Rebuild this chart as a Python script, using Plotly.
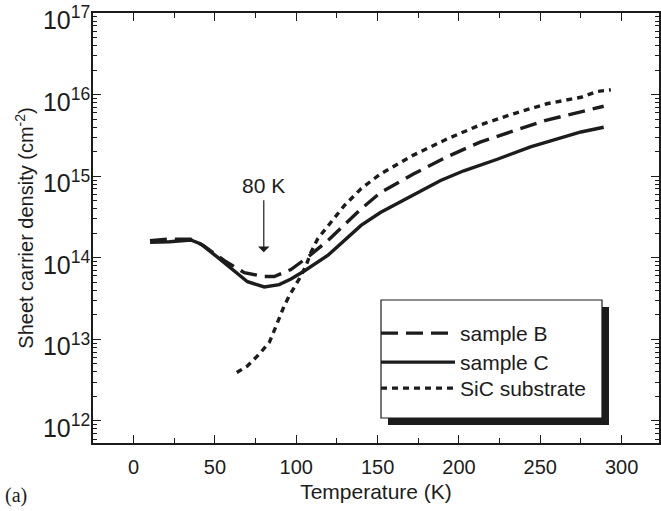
import plotly.graph_objects as go
import numpy as np

# ---- data ----
T_B = [10, 22, 35, 43, 55.6, 68, 80, 86.4, 96.7, 107, 119.3, 139.8, 151.7, 172, 192.8, 213, 234, 254, 275, 289]
n_B = [1.62e14, 1.70e14, 1.70e14, 1.41e14, 9.3e13, 6.6e13, 5.9e13, 5.9e13, 7.2e13, 1.02e14, 1.62e14,
       3.98e14, 6.3e14, 1.07e15, 1.74e15, 2.63e15, 3.63e15, 4.90e15, 6.17e15, 7.24e15]

T_C = [10.1, 22, 35.1, 41.3, 51.5, 61.8, 70, 80.3, 89.5, 96.7, 104.9, 119.3, 139.8, 151.7, 172, 188.7,
       203, 223.6, 244, 264.7, 275, 289]
n_C = [1.55e14, 1.58e14, 1.66e14, 1.48e14, 1.02e14, 6.9e13, 5.1e13, 4.4e13, 4.7e13, 5.5e13, 6.9e13,
       1.07e14, 2.5e14, 3.6e14, 6.0e14, 8.9e14, 1.17e15, 1.62e15, 2.3e15, 3.0e15, 3.5e15, 4.0e15]

T_S = [63.4, 70.0, 77.2, 83.4, 86.4, 89.5, 92.6, 95.7, 98.8, 101.8, 106, 109, 113.1, 117.2, 123.4, 129.6,
       135.7, 139.8, 151.7, 172, 192.8, 213, 234, 254, 275, 285, 293.4]
n_S = [3.93e12, 4.74e12, 6.6e12, 9.2e12, 1.28e13, 1.86e13, 2.59e13, 3.44e13, 4.37e13, 5.52e13, 8.05e13,
       1.17e14, 1.71e14, 2.17e14, 3.16e14, 4.40e14, 5.83e14, 7.05e14, 1.07e15, 1.82e15, 2.88e15, 4.27e15,
       5.89e15, 7.76e15, 9.33e15, 1.10e16, 1.15e16]

series_names = ["sample B", "sample C", "SiC substrate"]
arrow_T = 80
arrow_tip = 1.17e14
arrow_text_n = 7.8e14

# ---- layout geometry (pixels) ----
W, H = 661, 511
L, R, TOP, BOT = 93, 659, 13, 443
pw, ph = R - L, BOT - TOP

def px(xpix):
    return (xpix - L) / pw

def py(ypix):
    return (BOT - ypix) / ph

ink = "#1c1c1c"
font_main = "Liberation Sans, Arial, Helvetica, sans-serif"

fig = go.Figure()
fig.add_trace(go.Scatter(x=T_B, y=n_B, mode="lines", name=series_names[0], legend="legend",
                         line=dict(color=ink, width=3.4, dash="17px,8px")))
fig.add_trace(go.Scatter(x=T_C, y=n_C, mode="lines", name=series_names[1], legend="legend2",
                         line=dict(color=ink, width=3.4)))
fig.add_trace(go.Scatter(x=T_S, y=n_S, mode="lines", name=series_names[2], legend="legend3",
                         line=dict(color=ink, width=3.4, dash="6px,5px")))

# legend box with drop shadow
box = (381, 300, 602, 418)
sh = 7
fig.add_shape(type="rect", xref="paper", yref="paper",
              x0=px(box[0] + sh), x1=px(box[2] + sh), y0=py(box[3] + sh), y1=py(box[1] + sh),
              fillcolor=ink, line=dict(width=0), layer="above")
fig.add_shape(type="rect", xref="paper", yref="paper",
              x0=px(box[0]), x1=px(box[2]), y0=py(box[3]), y1=py(box[1]),
              fillcolor="white", line=dict(color=ink, width=1.2), layer="above")

# 80 K arrow
fig.add_annotation(x=arrow_T, y=np.log10(arrow_tip), ax=arrow_T, ay=np.log10(arrow_text_n),
                   axref="x", ayref="y", text="80 K", showarrow=True,
                   arrowhead=1, arrowsize=1.6, arrowwidth=1.2, arrowcolor=ink,
                   font=dict(family=font_main, size=21, color=ink), standoff=0, startstandoff=2)

# (a) label
fig.add_annotation(xref="paper", yref="paper", x=px(3), y=py(495), xanchor="left", yanchor="middle",
                   text="(a)", showarrow=False,
                   font=dict(family="Liberation Serif, Times New Roman, serif", size=20, color=ink))

def leg(top):
    return dict(x=px(376), y=py(top), xanchor="left", yanchor="top",
                bgcolor="rgba(0,0,0,0)", borderwidth=0, itemwidth=74,
                font=dict(family=font_main, size=21, color=ink), tracegroupgap=0)

fig.update_layout(
    width=W, height=H,
    margin=dict(l=L, r=W - R, t=TOP, b=H - BOT, autoexpand=False),
    paper_bgcolor="white", plot_bgcolor="white",
    font=dict(family=font_main, size=20, color=ink),
    showlegend=True,
    legend=leg(313), legend2=leg(342), legend3=leg(368),
    xaxis=dict(range=[-25, 323], tickmode="linear", tick0=0, dtick=50,
               ticks="inside", ticklen=8, tickwidth=1.3, tickcolor=ink,
               showline=True, linecolor=ink, linewidth=1.5, mirror="ticks",
               showgrid=False, zeroline=False, automargin=False, ticklabelstandoff=5,
               ticklabeloverflow="allow",
               minor=dict(ticks="inside", ticklen=5, tickwidth=1.2, tickcolor=ink, dtick=25, showgrid=False),
               title=dict(text="Temperature (K)", font=dict(size=21), standoff=8),
               tickfont=dict(size=20)),
    yaxis=dict(type="log", range=[11.73, 17.003], tickmode="linear", tick0=0, dtick=1,
               exponentformat="power",
               ticks="inside", ticklen=8, tickwidth=1.3, tickcolor=ink,
               showline=True, linecolor=ink, linewidth=1.5, mirror="ticks",
               showgrid=False, zeroline=False, automargin=False, ticklabelstandoff=-3,
               ticklabelshift=7, ticklabeloverflow="allow",
               minor=dict(ticks="inside", ticklen=4, tickwidth=1.1, tickcolor=ink, dtick="D1", showgrid=False),
               title=dict(text="Sheet carrier density (cm<sup>-2</sup>)", font=dict(size=20), standoff=4),
               tickfont=dict(size=20)),
)

fig.write_html("out.html", config={"displayModeBar": False},
               post_script="document.body.style.margin='0';document.body.style.padding='0';")
